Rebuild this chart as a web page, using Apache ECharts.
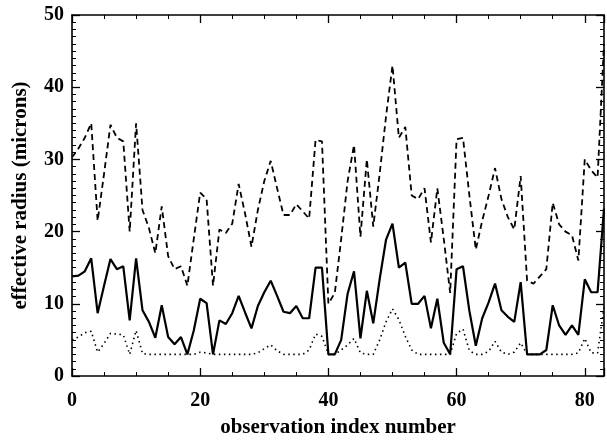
<!DOCTYPE html>
<html>
<head>
<meta charset="utf-8">
<script src="https://cdn.jsdelivr.net/npm/echarts@6/dist/echarts.min.js"></script>
<style>
html,body{margin:0;padding:0;background:#fff;}
#chart{width:607px;height:443px;}
</style>
</head>
<body>
<div id="chart"></div>
<script>
// effective radius (microns) per observation index 0..83
const dashedValues = [
  30.3, 31.5, 33, 35, 21.5, 28, 34.8, 33, 32.5, 20, 35, 23, 20.5, 17, 23.5, 16.6, 14.8, 15.2, 12.5, 19,
  25.4, 24.5, 12.5, 20.3, 19.8, 21.1, 26.6, 22.5, 17.9, 23, 27, 29.8, 26, 22.3, 22.3, 23.8, 22.8, 21.8, 32.7, 32.5,
  10, 11.5, 19, 27, 32, 19.3, 30, 20.7, 28, 36, 43, 33, 34.5, 25, 24.5, 26, 18.5, 26, 19, 11.5,
  32.8, 33, 25, 17.5, 21.5, 25, 28.8, 24.5, 22, 20.3, 27.7, 13.2, 12.8, 13.8, 14.8, 24, 21, 20, 19.5, 16,
  30, 28.5, 27.5, 46
];
const solidValues = [
  13.8, 13.9, 14.5, 16.3, 8.7, 12.5, 16.2, 14.8, 15.2, 7.7, 16.3, 9.1, 7.5, 5.3, 9.8, 5.4, 4.4, 5.4, 3, 6.3,
  10.7, 10.1, 3, 7.7, 7.2, 8.7, 11.1, 8.8, 6.6, 9.7, 11.6, 13.2, 11.1, 8.9, 8.7, 9.7, 8, 8, 15, 15,
  3, 3, 5, 11.4, 14.5, 5.2, 11.8, 7.3, 13.4, 18.9, 21.1, 15, 15.7, 10, 10, 11.1, 6.6, 10.7, 4.6, 3,
  14.8, 15.2, 9, 4.2, 8, 10.2, 12.8, 9.1, 8.2, 7.5, 13, 3, 3, 3, 3.6, 9.8, 7, 5.7, 7, 5.7,
  13.4, 11.6, 11.6, 23.2
];
const dottedValues = [
  5, 5.4, 6, 6.2, 3.3, 4.5, 5.9, 5.8, 5.7, 3, 6.3, 3.1, 3, 3, 3, 3, 3, 3, 3, 3,
  3.3, 3.2, 3, 3, 3, 3, 3, 3, 3, 3.2, 3.8, 4.3, 3.5, 3, 3, 3, 3, 3.6, 5.8, 5.5,
  3, 3, 3.6, 4.3, 5.2, 3.2, 3, 3, 5, 7.5, 9.3, 7.8, 5.5, 3.6, 3, 3, 3, 3, 3, 3,
  5.9, 6.5, 3.5, 3, 3, 3.4, 4.8, 3.3, 3, 3.3, 4.6, 3, 3, 3, 3, 3, 3, 3, 3, 3.2,
  5.2, 3.2, 3.2, 9.5
];
const xTicks = [0, 20, 40, 60, 80];
const yTicks = [0, 10, 20, 30, 40, 50];
const xTitle = 'observation index number';
const yTitle = 'effective radius (microns)';

const toPairs = arr => arr.map((v, i) => [i, v]);

const FONT = '"Liberation Serif", "Times New Roman", serif';
const axisCommon = {
  axisLine: { show: true, onZero: false, lineStyle: { color: '#000', width: 1.6 } },
  splitLine: { show: false },
  axisTick: { show: true, inside: true, length: 8, lineStyle: { color: '#000', width: 1.3 } },
  minorTick: { show: true, length: 4, lineStyle: { color: '#000', width: 1 } }
};

const chart = echarts.init(document.getElementById('chart'), null, { renderer: 'canvas' });
chart.setOption({
  animation: false,
  backgroundColor: '#fff',
  grid: { left: 72, right: 3, top: 15, bottom: 62, containLabel: false },
  xAxis: [
    Object.assign({}, axisCommon, {
      type: 'value', position: 'bottom', min: xTicks[0], max: 83, interval: xTicks[1] - xTicks[0],
      minorTick: Object.assign({}, axisCommon.minorTick, { splitNumber: 4 }),
      axisLabel: { show: true, margin: 15, color: '#000', fontFamily: FONT, fontWeight: 'bold', fontSize: 20,
        showMaxLabel: false,
        formatter: v => xTicks.indexOf(v) >= 0 ? String(v) : '' },
      name: xTitle, nameLocation: 'middle', nameGap: 41,
      nameTextStyle: { color: '#000', fontFamily: FONT, fontWeight: 'bold', fontSize: 21 }
    }),
    Object.assign({}, axisCommon, {
      type: 'value', position: 'top', min: xTicks[0], max: 83, interval: xTicks[1] - xTicks[0],
      minorTick: Object.assign({}, axisCommon.minorTick, { splitNumber: 4 }),
      axisLabel: { show: false }
    })
  ],
  yAxis: [
    Object.assign({}, axisCommon, {
      type: 'value', position: 'left', min: yTicks[0], max: yTicks[yTicks.length - 1], interval: yTicks[1] - yTicks[0],
      minorTick: Object.assign({}, axisCommon.minorTick, { splitNumber: 10 }),
      axisLabel: { show: true, margin: 8, color: '#000', fontFamily: FONT, fontWeight: 'bold', fontSize: 20 },
      name: yTitle, nameLocation: 'middle', nameGap: 41, nameRotate: 90,
      nameTextStyle: { color: '#000', fontFamily: FONT, fontWeight: 'bold', fontSize: 21 }
    }),
    Object.assign({}, axisCommon, {
      type: 'value', position: 'right', min: yTicks[0], max: yTicks[yTicks.length - 1], interval: yTicks[1] - yTicks[0],
      minorTick: Object.assign({}, axisCommon.minorTick, { splitNumber: 10 }),
      axisLabel: { show: false }
    })
  ],
  series: [
    { type: 'line', xAxisIndex: 0, yAxisIndex: 0, data: toPairs(dashedValues), symbol: 'none',
      lineStyle: { color: '#000', width: 1.8, type: [6, 4] } },
    { type: 'line', xAxisIndex: 0, yAxisIndex: 0, data: toPairs(solidValues), symbol: 'none',
      lineStyle: { color: '#000', width: 2.2 } },
    { type: 'line', xAxisIndex: 0, yAxisIndex: 0, data: toPairs(dottedValues), symbol: 'none',
      lineStyle: { color: '#000', width: 1.6, type: [1.5, 3.5] } }
  ]
});
</script>
</body>
</html>
